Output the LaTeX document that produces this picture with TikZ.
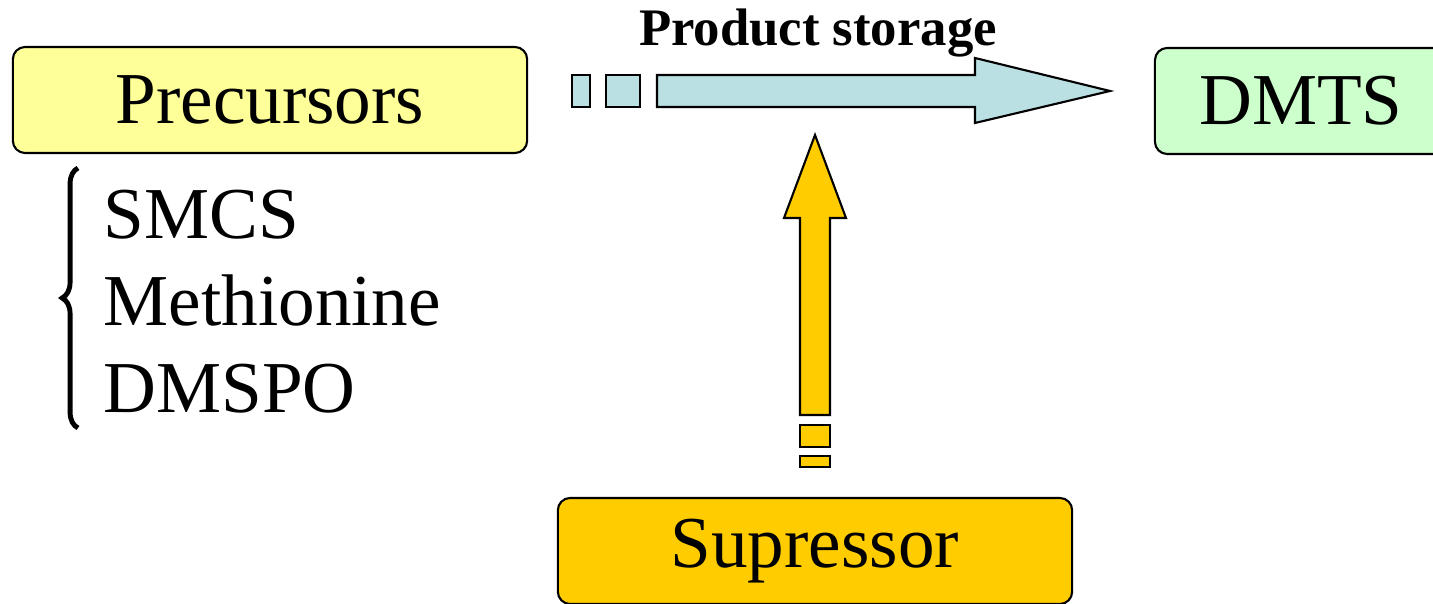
\documentclass[tikz,border=0pt]{standalone}
\usepackage{fontspec}
\setmainfont{Liberation Serif}
\usetikzlibrary{positioning,decorations.pathreplacing}
\definecolor{precol}{RGB}{255,255,153}
\definecolor{dmtscol}{RGB}{204,255,204}
\definecolor{supcol}{RGB}{255,204,0}
\definecolor{storecol}{RGB}{187,224,227}
\tikzset{
  % rounded label box
  rbox/.style={rectangle, rounded corners=3.5pt, draw=black, line width=0.6pt, fill=#1,
               minimum width=5.14cm, minimum height=1.06cm, inner sep=0pt,
               font=\fontsize{20.8}{25}\selectfont},
  rbox/.default={white},
  % list entry
  listitem/.style={anchor=base west, inner sep=0pt, font=\fontsize{20.8}{25}\selectfont},
  % block arrow outline
  blockarrow/.style={draw=black, line width=0.6pt, fill=#1},
}
\begin{document}
\begin{tikzpicture}[x=0.01cm, y=-0.01cm]
  \useasboundingbox (0,0) rectangle (1433,604);

  % boxes
  \node[rbox=precol] (prec) at (270,100) {Precursors};
  \node[rbox=dmtscol, minimum width=2.92cm] (dmts) at (1301,101) {DMTS};
  \node[rbox=supcol] (supp) at (815,551) {Supressor};

  % precursor list
  \node[listitem] (smcs) at (103,239) {SMCS};
  \node[listitem] (meth) at (103,326) {Methionine};
  \node[listitem] (dmspo) at (103,413) {DMSPO};
  \draw[decorate, decoration={brace, amplitude=4.5pt}, line width=1.4pt]
    (78,428) -- (78,168);

  % product storage arrow
  \draw[blockarrow=storecol] (572,75) rectangle (590,107);
  \draw[blockarrow=storecol] (606,75) rectangle (640,107);
  \draw[blockarrow=storecol] (657,75) -- (975,75) -- (975,58) -- (1110,91)
    -- (975,123) -- (975,107) -- (657,107) -- cycle;
  \node[font=\fontsize{15}{18}\selectfont\bfseries, anchor=base] (store) at (818,46) {Product storage};

  % supressor arrow
  \draw[blockarrow=supcol] (800,456) rectangle (830,467);
  \draw[blockarrow=supcol] (800,425) rectangle (830,447);
  \draw[blockarrow=supcol] (800,415) -- (800,218) -- (784,218) -- (815,135)
    -- (846,218) -- (830,218) -- (830,415) -- cycle;
\end{tikzpicture}
\end{document}
